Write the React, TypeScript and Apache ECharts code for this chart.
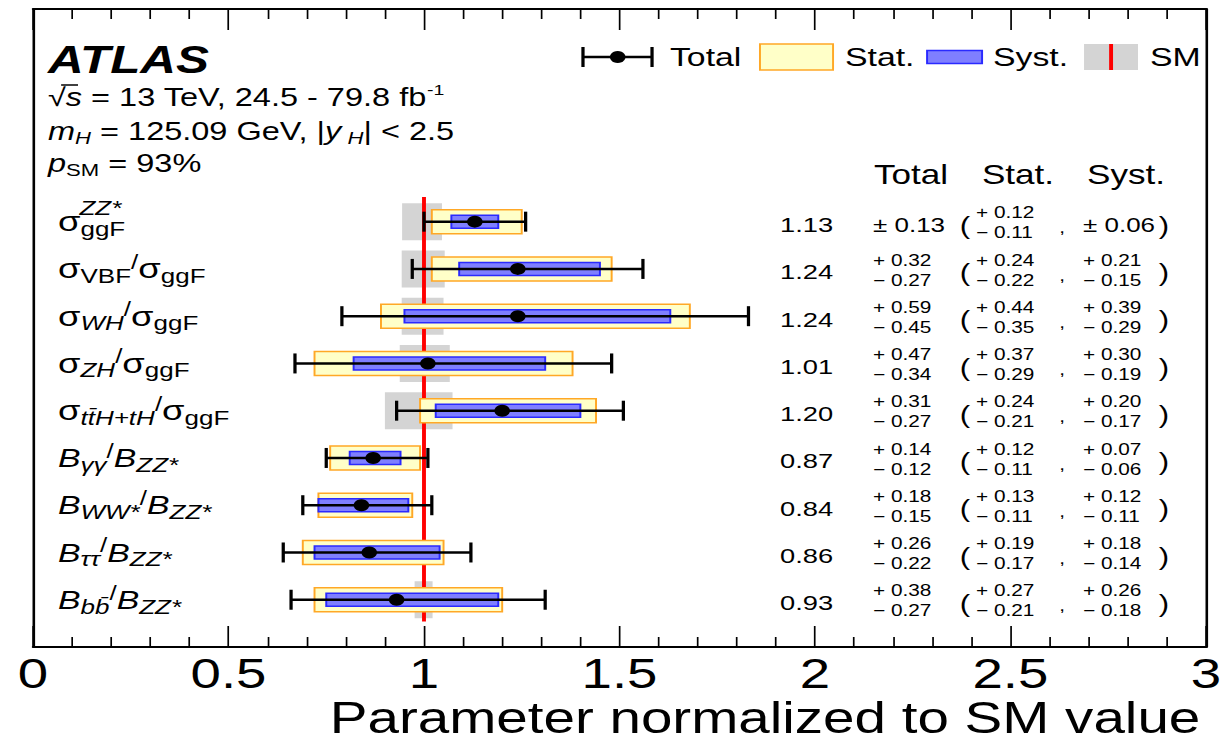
import React, { useEffect, useRef } from 'react';
import * as echarts from 'echarts';

// ---------- data ----------
const rowLabels = [
  '{m|σ}{sub|ggF}',
  '{m|σ}{sub|VBF}{sl|/}{m|σ}{sub|ggF}',
  '{m|σ}{subi|WH}{sl|/}{m|σ}{sub|ggF}',
  '{m|σ}{subi|ZH}{sl|/}{m|σ}{sub|ggF}',
  '{m|σ}{subi|tt\u0304H+tH}{sl|/}{m|σ}{sub|ggF}',
  '{bi|B}{subi|γγ}{sl|/}{bi|B}{subi|ZZ*}',
  '{bi|B}{subi|WW*}{sl|/}{bi|B}{subi|ZZ*}',
  '{bi|B}{subi|ττ}{sl|/}{bi|B}{subi|ZZ*}',
  '{bi|B}{subi|bb\u0304}{sl|/}{bi|B}{subi|ZZ*}',
];
const rowLabelSup = ['ZZ*', '', '', '', '', '', '', '', ''];

const central = [1.13, 1.24, 1.24, 1.01, 1.2, 0.87, 0.84, 0.86, 0.93];
const totUp = [0.13, 0.32, 0.59, 0.47, 0.31, 0.14, 0.18, 0.26, 0.38];
const totDn = [0.13, 0.27, 0.45, 0.34, 0.27, 0.12, 0.15, 0.22, 0.27];
const statUp = [0.12, 0.24, 0.44, 0.37, 0.24, 0.12, 0.13, 0.19, 0.27];
const statDn = [0.11, 0.22, 0.35, 0.29, 0.21, 0.11, 0.11, 0.17, 0.21];
const systUp = [0.06, 0.21, 0.39, 0.3, 0.2, 0.07, 0.12, 0.18, 0.26];
const systDn = [0.06, 0.15, 0.29, 0.19, 0.17, 0.06, 0.11, 0.14, 0.18];
const smUp = [0.046, 0.053, 0.05, 0.066, 0.073, 0.004, 0.004, 0.004, 0.022];
const smDn = [0.056, 0.057, 0.057, 0.062, 0.1, 0.004, 0.004, 0.004, 0.024];
const smValue = 1;
const smLineRange = [-0.52, 8.46];

const headerLabels = ['Total', 'Stat.', 'Syst.'];
const legendLabels = ['Total', 'Stat.', 'Syst.', 'SM'];
const xAxisTitle = 'Parameter normalized to SM value';

// ---------- layout ----------
const OUT_W = 1225;
const INNER_W = 942;
const SX = OUT_W / INNER_W;
const H = 746;
const FONT = 'Liberation Sans';

const fmt = (v: number) => v.toFixed(2);

const measData = central.map((c, i) => [i, c, totUp[i], totDn[i], statUp[i], statDn[i], systUp[i], systDn[i]]);
const bandData = smUp.map((u, i) => [i, smValue, u, smDn[i]]);

const labelRich: any = {
  m: { fontFamily: FONT, fontSize: 28, lineHeight: 34, fill: '#000' },
  bi: { fontFamily: FONT, fontSize: 26, fontStyle: 'italic', lineHeight: 34, fill: '#000' },
  sub: { fontFamily: FONT, fontSize: 20, lineHeight: 16, verticalAlign: 'bottom', fill: '#000' },
  subi: { fontFamily: FONT, fontSize: 20, fontStyle: 'italic', lineHeight: 16, verticalAlign: 'bottom', fill: '#000' },
  sl: { fontFamily: FONT, fontSize: 20, lineHeight: 20, verticalAlign: 'top', fill: '#000' },
};

const COL = { label: 44.6, central: 620.2, total: 671.3, lpar: 742, stat: 750.5, comma: 816.7, syst: 832.8, rpar: 895.1 };

function uncText(x: number, y: number, up: number, dn: number) {
  if (up === dn) {
    return {
      type: 'text', x, y: y + 3,
      style: { text: '± ' + fmt(up), fontFamily: FONT, fontSize: 20, fill: '#000', align: 'left', verticalAlign: 'middle' },
    };
  }
  return {
    type: 'text', x, y: y + 1,
    style: {
      text: '+ ' + fmt(up) + '\n\u2212 ' + fmt(dn), fontFamily: FONT, fontSize: 16, lineHeight: 20,
      fill: '#000', align: 'left', verticalAlign: 'middle',
    },
  };
}

const renderBand = (params: any, api: any) => {
  const i = api.value(0);
  const s = api.value(1);
  const lo = api.coord([s - api.value(3), i]);
  const hi = api.coord([s + api.value(2), i]);
  return {
    type: 'rect',
    shape: { x: lo[0], y: lo[1] - 18.5, width: hi[0] - lo[0], height: 37 },
    style: { fill: '#d4d4d4' },
  };
};

const renderMeas = (params: any, api: any) => {
  const i = api.value(0);
  const c = api.value(1);
  const [xc, y] = api.coord([c, i]);
  const xTl = api.coord([c - api.value(3), i])[0];
  const xTh = api.coord([c + api.value(2), i])[0];
  const xSl = api.coord([c - api.value(5), i])[0];
  const xSh = api.coord([c + api.value(4), i])[0];
  const xYl = api.coord([c - api.value(7), i])[0];
  const xYh = api.coord([c + api.value(6), i])[0];
  const children: any[] = [
    { type: 'rect', shape: { x: xSl, y: y - 12, width: xSh - xSl, height: 24 }, style: { fill: '#ffffc8', stroke: '#ffa826', lineWidth: 1.5 } },
    { type: 'rect', shape: { x: xYl, y: y - 6.5, width: xYh - xYl, height: 13 }, style: { fill: '#7f7fff', stroke: '#2a2aff', lineWidth: 1.5 } },
    { type: 'line', shape: { x1: xTl, y1: y, x2: xTh, y2: y }, style: { stroke: '#000', lineWidth: 2.5 } },
    { type: 'line', shape: { x1: xTl, y1: y - 10, x2: xTl, y2: y + 10 }, style: { stroke: '#000', lineWidth: 2.5 } },
    { type: 'line', shape: { x1: xTh, y1: y - 10, x2: xTh, y2: y + 10 }, style: { stroke: '#000', lineWidth: 2.5 } },
    { type: 'circle', shape: { cx: xc, cy: y, r: 6 }, style: { fill: '#000' } },
    // row label
    { type: 'text', x: COL.label, y, style: { text: rowLabels[i], rich: labelRich, align: 'left', verticalAlign: 'middle' } },
    // table
    { type: 'text', x: COL.central, y: y + 3, style: { text: fmt(c), fontFamily: FONT, fontSize: 21, fill: '#000', align: 'center', verticalAlign: 'middle' } },
    uncText(COL.total, y, api.value(2), api.value(3)),
    { type: 'text', x: COL.lpar, y: y + 4, style: { text: '(', fontFamily: FONT, fontSize: 24, fill: '#000', align: 'center', verticalAlign: 'middle' } },
    uncText(COL.stat, y, api.value(4), api.value(5)),
    { type: 'text', x: COL.comma, y: y + 6, style: { text: ',', fontFamily: FONT, fontSize: 16, fill: '#000', align: 'center', verticalAlign: 'middle' } },
    uncText(COL.syst, y, api.value(6), api.value(7)),
    { type: 'text', x: COL.rpar, y: y + 4, style: { text: ')', fontFamily: FONT, fontSize: 24, fill: '#000', align: 'center', verticalAlign: 'middle' } },
  ];
  if (rowLabelSup[i]) {
    children.push({
      type: 'text', x: COL.label + 16.5, y: y - 14,
      style: { text: rowLabelSup[i], fontFamily: FONT, fontSize: 20, fontStyle: 'italic', fill: '#000', align: 'left', verticalAlign: 'middle' },
    });
  }
  return { type: 'group', children };
};

const topRich: any = {
  t: { fontFamily: FONT, fontSize: 25, lineHeight: 30, fill: '#000' },
  it: { fontFamily: FONT, fontSize: 25, fontStyle: 'italic', lineHeight: 30, fill: '#000' },
  sub: { fontFamily: FONT, fontSize: 17, lineHeight: 14, verticalAlign: 'bottom', fill: '#000' },
  subi: { fontFamily: FONT, fontSize: 17, fontStyle: 'italic', lineHeight: 14, verticalAlign: 'bottom', fill: '#000' },
  sup: { fontFamily: FONT, fontSize: 15, lineHeight: 14, verticalAlign: 'top', fill: '#000' },
};

function txt(x: number, y: number, text: string, size: number, align = 'left', extra: any = {}) {
  return {
    type: 'text', x, y,
    style: { text, fontFamily: FONT, fontSize: size, fill: '#000', align, textAlign: align, verticalAlign: 'middle', textVerticalAlign: 'middle', ...extra },
  };
}

const LEG_Y = 57;
const graphic: any[] = [
  txt(36.9, 60, 'ATLAS', 38, 'left', { fontWeight: 'bold', fontStyle: 'italic' }),
  txt(36.9, 97, '{t|√}{it|s}{t| = 13 TeV, 24.5 - 79.8 fb}{sup|-1}', 25, 'left', { rich: topRich }),
  txt(36.9, 131, '{it|m}{subi|H}{t| = 125.09 GeV, |}{it|y}{subi| H}{t|| < 2.5}', 25, 'left', { rich: topRich }),
  txt(36.9, 163, '{it|p}{sub|SM}{t| = 93%}', 25, 'left', { rich: topRich }),
  // overline of sqrt
  { type: 'line', shape: { x1: 47, y1: 85, x2: 60, y2: 85 }, style: { stroke: '#000', lineWidth: 1.5 } },
  // legend
  { type: 'line', shape: { x1: 448.3, y1: LEG_Y, x2: 501.4, y2: LEG_Y }, style: { stroke: '#000', lineWidth: 2.5 } },
  { type: 'line', shape: { x1: 448.3, y1: LEG_Y - 10, x2: 448.3, y2: LEG_Y + 10 }, style: { stroke: '#000', lineWidth: 2.5 } },
  { type: 'line', shape: { x1: 501.4, y1: LEG_Y - 10, x2: 501.4, y2: LEG_Y + 10 }, style: { stroke: '#000', lineWidth: 2.5 } },
  { type: 'circle', shape: { cx: 475, cy: LEG_Y, r: 6 }, style: { fill: '#000' } },
  txt(515.2, LEG_Y, legendLabels[0], 26),
  { type: 'rect', shape: { x: 584.4, y: LEG_Y - 13, width: 56.2, height: 26 }, style: { fill: '#ffffc8', stroke: '#ffa826', lineWidth: 1.5 } },
  txt(649.8, LEG_Y, legendLabels[1], 26),
  { type: 'rect', shape: { x: 712.9, y: LEG_Y - 6.5, width: 42.3, height: 13 }, style: { fill: '#7f7fff', stroke: '#2a2aff', lineWidth: 1.5 } },
  txt(763.6, LEG_Y, legendLabels[2], 26),
  { type: 'rect', shape: { x: 833.6, y: LEG_Y - 13, width: 41.5, height: 26 }, style: { fill: '#d4d4d4' } },
  { type: 'line', shape: { x1: 854.4, y1: LEG_Y - 13, x2: 854.4, y2: LEG_Y + 13 }, style: { stroke: '#ff0000', lineWidth: 3 } },
  txt(884.3, LEG_Y, legendLabels[3], 26),
  // table header
  txt(700.6, 175, headerLabels[0], 27, 'center'),
  txt(782.8, 175, headerLabels[1], 27, 'center'),
  txt(865.9, 175, headerLabels[2], 27, 'center'),
  // axis title
  txt(923, 718, xAxisTitle, 43.5, 'right'),
];

const xCommon: any = {
  type: 'value', min: 0, max: 3, interval: 0.5, gridIndex: 0,
  axisLine: { show: true, onZero: false, lineStyle: { color: '#000', width: 2 } },
  axisTick: { show: true, inside: true, length: 21, lineStyle: { color: '#000', width: 1.3 } },
  minorTick: { show: true, splitNumber: 5, length: 10, lineStyle: { color: '#000', width: 1.3 } },
  splitLine: { show: false }, minorSplitLine: { show: false },
};
const yCommon: any = {
  type: 'value', min: -4.5, max: 9, inverse: true, gridIndex: 0,
  axisLine: { show: true, onZero: false, lineStyle: { color: '#000', width: 2 } },
  axisTick: { show: false }, axisLabel: { show: false }, splitLine: { show: false },
};

const option: any = {
  animation: false,
  backgroundColor: '#fff',
  grid: { left: 25.4, right: 13.8, top: 9, bottom: 99, containLabel: false },
  xAxis: [
    { ...xCommon, position: 'bottom', axisLabel: { show: true, fontFamily: FONT, fontSize: 42, color: '#000', margin: 5 } },
    { ...xCommon, position: 'top', axisLabel: { show: false } },
  ],
  yAxis: [
    { ...yCommon, position: 'left' },
    { ...yCommon, position: 'right' },
  ],
  series: [
    { type: 'custom', name: 'SM band', z: 1, xAxisIndex: 0, yAxisIndex: 0, renderItem: renderBand, data: bandData, encode: { x: 1, y: 0 }, silent: true },
    { type: 'line', name: 'SM', z: 2, xAxisIndex: 0, yAxisIndex: 0, data: smLineRange.map((v) => [smValue, v]), showSymbol: false, symbol: 'none', lineStyle: { color: '#ff0000', width: 3 }, silent: true },
    { type: 'custom', name: 'Measurements', z: 3, xAxisIndex: 0, yAxisIndex: 0, renderItem: renderMeas, data: measData, encode: { x: 1, y: 0 }, silent: true },
  ],
  graphic,
};

export default function App() {
  const ref = useRef<HTMLDivElement>(null);
  useEffect(() => {
    const chart = echarts.init(ref.current as HTMLDivElement, null, { renderer: 'svg' });
    chart.setOption(option);
    return () => chart.dispose();
  }, []);
  return (
    <div style={{ position: 'absolute', left: 0, top: 0, width: INNER_W, height: H, transform: `scaleX(${SX})`, transformOrigin: '0 0', background: '#fff' }}>
      <div ref={ref} style={{ width: INNER_W, height: H }} />
    </div>
  );
}
